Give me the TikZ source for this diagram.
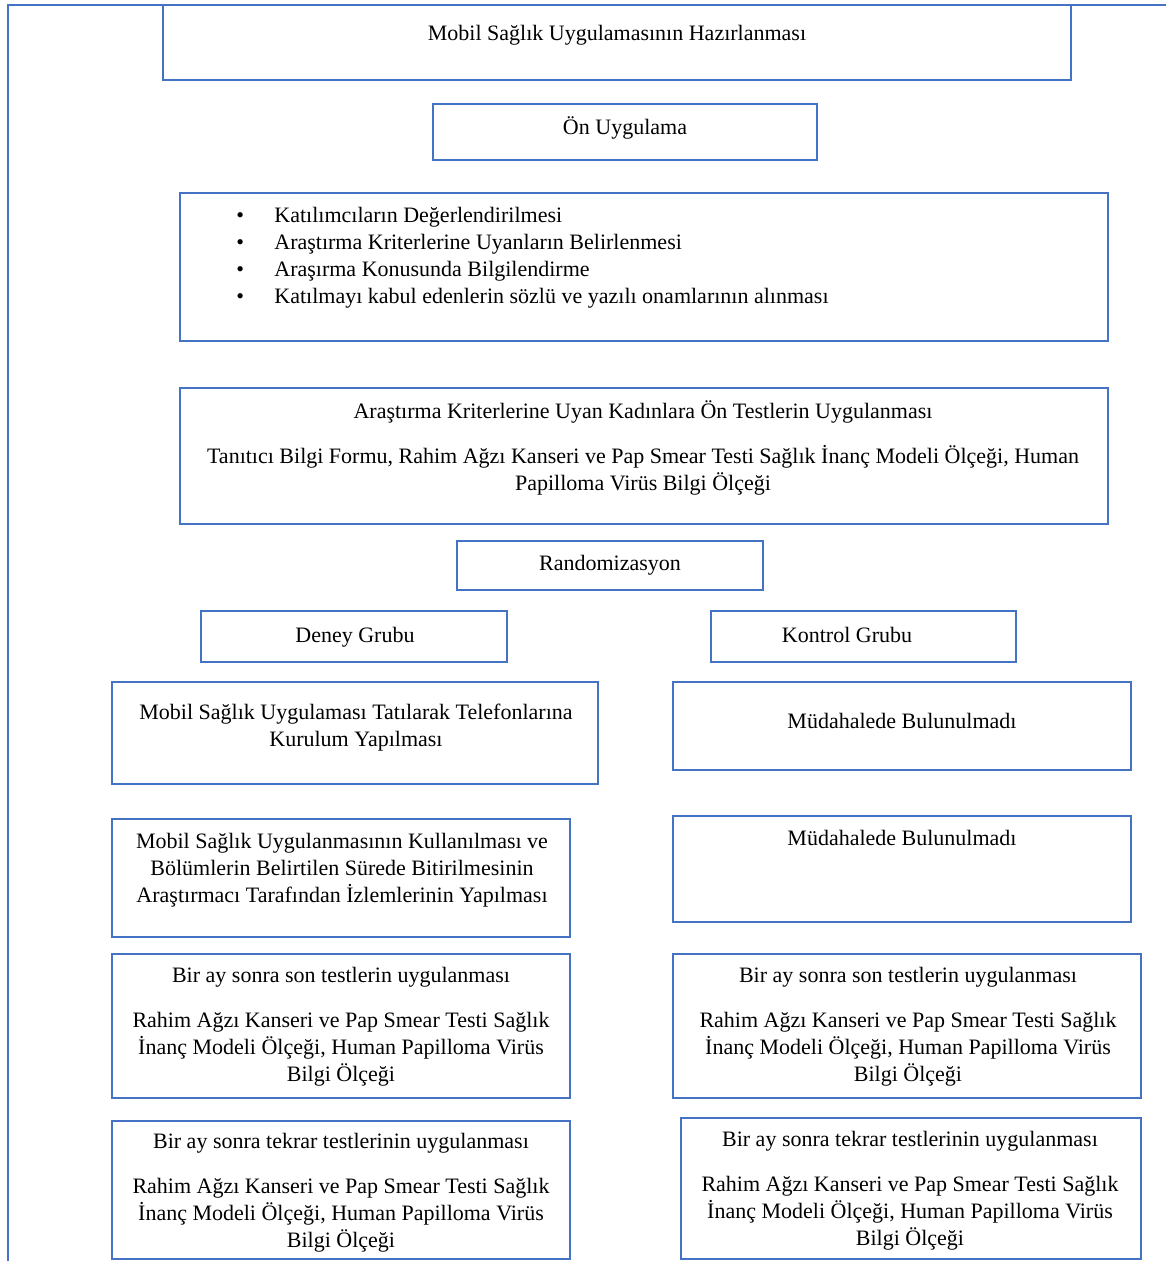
\documentclass[tikz,border=0pt]{standalone}
\usepackage{fontspec}
\setmainfont{Liberation Serif}
\usetikzlibrary{fit,positioning}
\definecolor{boxblue}{RGB}{68,114,196}
\tikzset{
  flowbox/.style={draw=boxblue, line width=1pt, inner sep=0pt},
  lbl/.style={font=\fontsize{11}{13.5}\selectfont, align=center, inner sep=0pt, yshift=-1.2pt}
}
\newcommand{\bul}{\makebox[19pt][l]{\textbullet}}
\begin{document}
\begin{tikzpicture}[x=0.5pt,y=-0.5pt]
    \useasboundingbox (0,0) rectangle (1166,1261);

    % outer frame
    \draw[boxblue, line width=1pt] (8,1261) -- (8,5) -- (1166,5);

    % top part
    \node[flowbox, fit={(163,5) (1071,80)}] (prep) {};
    \node[lbl] (prepT) at (617,33) {Mobil Sağlık Uygulamasının Hazırlanması};

    \node[flowbox, fit={(433,104) (817,160)}] (pilot) {};
    \node[lbl] (pilotT) at (625,126) {Ön Uygulama};

    \node[flowbox, fit={(180,193) (1108,341)}] (steps) {};
    \node[lbl, align=left, anchor=west] (stepsT) at (236,255) {\bul Katılımcıların Değerlendirilmesi\\
        \bul Araştırma Kriterlerine Uyanların Belirlenmesi\\
        \bul Araşırma Konusunda Bilgilendirme\\
        \bul Katılmayı kabul edenlerin sözlü ve yazılı onamlarının alınması};

    \node[flowbox, fit={(180,388) (1108,524)}] (pretest) {};
    \node[lbl] (pretestT) at (643,446) {Araştırma Kriterlerine Uyan Kadınlara Ön Testlerin Uygulanması\\[9pt]
        Tanıtıcı Bilgi Formu, Rahim Ağzı Kanseri ve Pap Smear Testi Sağlık İnanç Modeli Ölçeği, Human\\
        Papilloma Virüs Bilgi Ölçeği};

    \node[flowbox, fit={(457,541) (763,590)}] (rand) {};
    \node[lbl] (randT) at (610,563) {Randomizasyon};

    % groups
    \node[flowbox, fit={(201,611) (507,662)}] (exp) {};
    \node[lbl] (expT) at (355,635) {Deney Grubu};
    \node[flowbox, fit={(711,611) (1016,662)}] (ctrl) {};
    \node[lbl] (ctrlT) at (847,633) {Kontrol Grubu};

    % experimental column
    \node[flowbox, fit={(112,682) (598,784)}] (expA) {};
    \node[lbl] (expAT) at (356,725) {Mobil Sağlık Uygulaması Tatılarak Telefonlarına\\ Kurulum Yapılması};
    \node[flowbox, fit={(112,819) (570,937)}] (expB) {};
    \node[lbl] (expBT) at (342,868) {Mobil Sağlık Uygulanmasının Kullanılması ve\\
        Bölümlerin Belirtilen Sürede Bitirilmesinin\\ Araştırmacı Tarafından İzlemlerinin Yapılması};
    \node[flowbox, fit={(112,954) (570,1098)}] (expC) {};
    \node[lbl] (expCT) at (341,1024) {Bir ay sonra son testlerin uygulanması\\[9pt]
        Rahim Ağzı Kanseri ve Pap Smear Testi Sağlık\\ İnanç Modeli Ölçeği, Human Papilloma Virüs\\ Bilgi Ölçeği};
    \node[flowbox, fit={(112,1121) (570,1259)}] (expD) {};
    \node[lbl] (expDT) at (341,1190) {Bir ay sonra tekrar testlerinin uygulanması\\[9pt]
        Rahim Ağzı Kanseri ve Pap Smear Testi Sağlık\\ İnanç Modeli Ölçeği, Human Papilloma Virüs\\ Bilgi Ölçeği};

    % control column
    \node[flowbox, fit={(673,682) (1131,770)}] (ctrlA) {};
    \node[lbl] (ctrlAT) at (902,719) {Müdahalede Bulunulmadı};
    \node[flowbox, fit={(673,816) (1131,922)}] (ctrlB) {};
    \node[lbl] (ctrlBT) at (902,836) {Müdahalede Bulunulmadı};
    \node[flowbox, fit={(673,954) (1141,1098)}] (ctrlC) {};
    \node[lbl] (ctrlCT) at (908,1024) {Bir ay sonra son testlerin uygulanması\\[9pt]
        Rahim Ağzı Kanseri ve Pap Smear Testi Sağlık\\ İnanç Modeli Ölçeği, Human Papilloma Virüs\\ Bilgi Ölçeği};
    \node[flowbox, fit={(681,1118) (1141,1259)}] (ctrlD) {};
    \node[lbl] (ctrlDT) at (910,1188) {Bir ay sonra tekrar testlerinin uygulanması\\[9pt]
        Rahim Ağzı Kanseri ve Pap Smear Testi Sağlık\\ İnanç Modeli Ölçeği, Human Papilloma Virüs\\ Bilgi Ölçeği};
\end{tikzpicture}
\end{document}
